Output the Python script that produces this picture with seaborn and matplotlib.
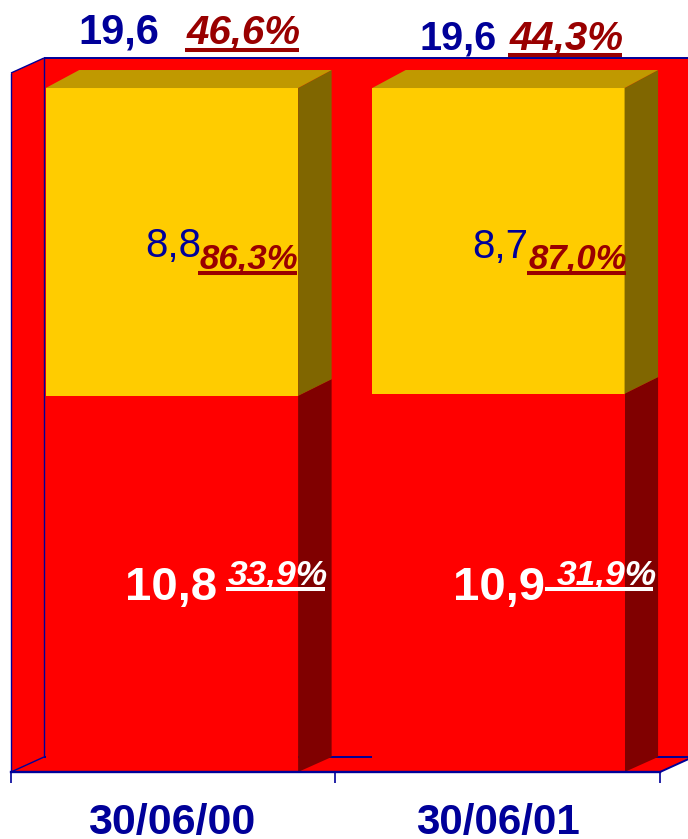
import matplotlib
matplotlib.use("Agg")
import matplotlib.pyplot as plt
import seaborn as sns
from matplotlib.lines import Line2D
from matplotlib.patches import Polygon

dates = ["30/06/00", "30/06/01"]
# labels below are the rounded ones
lower = [10.78, 10.84]
upper = [8.82, 8.76]
lower_labels = ["10,8", "10,9"]
upper_labels = ["8,8", "8,7"]
total_labels = ["19,6", "19,6"]
lower_pct = ["33,9%", "31,9%"]
upper_pct = ["86,3%", "87,0%"]
total_pct = ["46,6%", "44,3%"]

W, H = 688, 839
BLUE = "#000099"
DARK_RED = "#990000"
RED = "#FF0000"
YELLOW = "#FFCC00"
X_LO, X_HI = -0.493, 1.495

sns.set_style("white")
plt.rcParams["font.family"] = ["Liberation Sans", "DejaVu Sans"]

fig = plt.figure(figsize=(W / 100, H / 100), dpi=100)
# axes = front plane of the 3d box, in pixels 11..660 and 772..73
ax = fig.add_axes([11 / W, 1 - 772 / H, 649 / W, 699 / H])
ax.patch.set_alpha(0)

totals = [a + b for a, b in zip(lower, upper)]
sns.barplot(x=dates, y=totals, color=YELLOW, saturation=1, width=0.773, linewidth=0, ax=ax, zorder=4)
sns.barplot(x=dates, y=lower, color=RED, saturation=1, width=0.773, linewidth=0, ax=ax, zorder=5)
ax.set_xlim(X_LO, X_HI)
ax.set_ylim(0, 20.03)

px_x = (X_HI - X_LO) / 649
px_y = 20.03 / 699


def depth(v):
    # the extruded depth grows a bit towards the top of the box
    return 15 + 3 * v / 19.6


def poly(points, color, zorder=2):
    ax.add_patch(Polygon(points, closed=True, facecolor=color, edgecolor="none", linewidth=0,
                         clip_on=False, zorder=zorder))


# walls and floor
wall_dx, wall_dy = 33 * px_x, 15 * px_y
ymax = ax.get_ylim()[1]
back_l, back_r = X_LO + wall_dx, X_HI + wall_dx
poly([(back_l, wall_dy), (back_r, wall_dy), (back_r, ymax + wall_dy), (back_l, ymax + wall_dy)], RED, 1)
poly([(X_LO, 0), (back_l, wall_dy), (back_l, ymax + wall_dy), (X_LO, ymax)], RED, 1)
poly([(X_LO, 0), (X_HI, 0), (back_r, wall_dy), (back_l, wall_dy)], RED, 1)


def edge(xs, ys, lw=1.0):
    ax.add_line(Line2D(xs, ys, color=BLUE, lw=lw, clip_on=False, zorder=3, solid_capstyle="butt"))


edge([back_l, back_r], [ymax + wall_dy] * 2, 1.4)
edge([back_l, back_r], [wall_dy] * 2, 1.4)
edge([back_l] * 2, [wall_dy, ymax + wall_dy])
edge([X_LO] * 2, [0, ymax])
edge([X_LO, back_l], [ymax, ymax + wall_dy])
edge([X_LO, back_l], [0, wall_dy])
edge([X_HI, back_r], [0, wall_dy], 1.4)

# side and top faces of the bars, taken from the bars seaborn drew
tops = ax.containers[0]
bottoms = ax.containers[1]
bar_dx = 33.5 * px_x
for top_bar, low_bar in zip(tops, bottoms):
    x0 = top_bar.get_x()
    x1 = x0 + top_bar.get_width()
    v0 = low_bar.get_height()
    v1 = top_bar.get_height()
    d = [depth(0) * px_y, depth(v0) * px_y, depth(v1) * px_y]
    poly([(x1, 0), (x1 + bar_dx, d[0]), (x1 + bar_dx, v0 + d[1]), (x1, v0)], "#800000", 4)
    poly([(x1, v0), (x1 + bar_dx, v0 + d[1]), (x1 + bar_dx, v1 + d[2]), (x1, v1)], "#806600", 4)
    poly([(x0, v1), (x1, v1), (x1 + bar_dx, v1 + d[2]), (x0 + bar_dx, v1 + d[2])], "#C09900", 4)

sns.despine(ax=ax, left=True, top=True, right=True)
ax.spines["bottom"].set_color(BLUE)
ax.spines["bottom"].set_linewidth(1.7)
ax.spines["bottom"].set_zorder(6)
ax.set_yticks([])
ax.set_xticks([X_LO, 0.5, X_HI], minor=True)
ax.tick_params(axis="x", which="minor", bottom=True, length=8, width=1.2, color=BLUE)
ax.tick_params(axis="x", which="major", length=0, pad=22, labelcolor=BLUE, labelsize=31)
for lab, size in zip(ax.get_xticklabels(), [31, 30.3]):
    lab.set_fontweight("bold")
    lab.set_fontsize(size)


def label(x, base, s, color, size, weight="bold", style="normal"):
    fig.text(x / W, 1 - base / H, s, color=color, fontsize=size, fontweight=weight, fontstyle=style,
             ha="left", va="baseline")


def pct(x, base, s, color, size, x0, x1, y):
    label(x, base, s, color, size, style="italic")
    fig.add_artist(Line2D([x0 / W, x1 / W], [1 - y / H] * 2, color=color, lw=2.9,
                          solid_capstyle="butt", zorder=4))


label(78, 44, total_labels[0], BLUE, 30)
label(419, 50, total_labels[1], BLUE, 28.5)
pct(187, 44, total_pct[0], DARK_RED, 29, 185, 299, 50)
pct(510, 49, total_pct[1], DARK_RED, 29, 508, 622, 55)

label(145, 257, upper_labels[0], BLUE, 29, weight="normal")
label(472, 258, upper_labels[1], BLUE, 29, weight="normal")
pct(200, 268, upper_pct[0], DARK_RED, 25, 198, 297, 273)
pct(529, 268, upper_pct[1], DARK_RED, 25, 527, 626, 273)

label(125, 600, lower_labels[0], "white", 34)
label(453, 600, lower_labels[1], "white", 34)
pct(228, 584, lower_pct[0], "white", 25.5, 226, 325, 589)
pct(557, 584, lower_pct[1], "white", 25.5, 545, 653, 589)

fig.savefig("out.png", dpi=100)
